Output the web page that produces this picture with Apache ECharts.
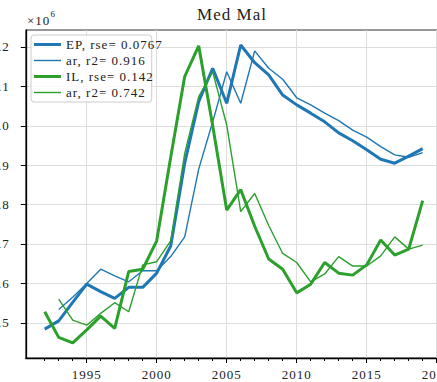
<!DOCTYPE html>
<html>
<head>
<meta charset="utf-8">
<script src="https://cdn.jsdelivr.net/npm/echarts@6/dist/echarts.min.js"></script>
<style>
html,body{margin:0;padding:0;background:#fff;}
#chart{width:437px;height:382px;}
#chart svg text{letter-spacing:1px;}
</style>
</head>
<body>
<div id="chart"></div>
<script>
// Data (values in units of 10^6)
const years = [1992,1993,1994,1995,1996,1997,1998,1999,2000,2001,2002,2003,2004,2005,2006,2007,2008,2009,2010,2011,2012,2013,2014,2015,2016,2017,2018,2019];
const epValues = [0.484,0.505,0.552,0.598,0.579,0.562,0.590,0.590,0.626,0.695,0.905,1.061,1.146,1.057,1.205,1.160,1.129,1.078,1.053,1.032,1.010,0.982,0.962,0.939,0.915,0.905,0.923,0.942];
const epArValues = [null,0.534,0.565,0.600,0.636,0.619,0.604,0.632,0.632,0.668,0.718,0.890,1.010,1.137,1.057,1.190,1.146,1.118,1.071,1.053,1.032,1.013,0.989,0.971,0.947,0.926,0.920,0.932];
const ilValues = [0.528,0.463,0.449,0.482,0.517,0.486,0.630,0.636,0.708,0.920,1.125,1.203,1.000,0.786,0.838,0.745,0.662,0.636,0.576,0.598,0.653,0.626,0.621,0.647,0.710,0.672,0.687,0.810];
const ilArValues = [null,0.560,0.507,0.494,0.524,0.551,0.528,0.647,0.655,0.708,0.930,1.074,1.137,1.002,0.782,0.828,0.747,0.676,0.653,0.604,0.624,0.668,0.644,0.644,0.670,0.718,0.687,0.697];
const seriesNames = ['EP, rse= 0.0767','ar, r2= 0.916','IL, rse= 0.142','ar, r2= 0.742'];
const xTickLabels = [1995,2000,2005,2010,2015,2020];
const xMinorTicks = years.concat([2020]);
const yTickLabels = [0.5,0.6,0.7,0.8,0.9,1.0,1.1,1.2];
const titleText = 'Med Mal';

const FONT = 'Liberation Serif';
const BLUE = '#1f77b4', GREEN = '#2ca02c';
const THICK = 3, THIN = 1.4;
const pairs = arr => years.map((y,i) => [y, arr[i]]);
const barIcon = h => 'path://M0,0H27V' + h + 'H0Z';

const chart = echarts.init(document.getElementById('chart'), null, {renderer:'svg'});
chart.setOption({
  animation:false,
  backgroundColor:'#fff',
  textStyle:{fontFamily:FONT},
  grid:{left:25.8, right:-4.6, top:30, bottom:24, show:true, borderColor:'#333', borderWidth:1, containLabel:false, outerBoundsMode:'none'},
  graphic:[
    {type:'text', x:232, y:14, style:{text:titleText, fontFamily:FONT, fontSize:17, fill:'#222', align:'center', verticalAlign:'middle'}},
    {type:'text', x:27, y:20, style:{text:'×10', fontFamily:FONT, fontSize:13, fill:'#222', align:'left', verticalAlign:'middle'}},
    {type:'text', x:50.5, y:14, style:{text:'6', fontFamily:FONT, fontSize:9, fill:'#222', align:'left', verticalAlign:'middle'}}
  ],
  legend:{
    orient:'vertical', left:31, top:35, padding:[3,4,3,3], itemGap:3, itemWidth:27, itemHeight:14,
    backgroundColor:'rgba(255,255,255,0.85)', borderColor:'#cccccc', borderWidth:1, borderRadius:3,
    textStyle:{fontFamily:FONT, fontSize:13, color:'#222'},
    data:[
      {name:seriesNames[0], icon:barIcon(THICK)},
      {name:seriesNames[1], icon:barIcon(THIN)},
      {name:seriesNames[2], icon:barIcon(THICK)},
      {name:seriesNames[3], icon:barIcon(THIN)}
    ]
  },
  xAxis:[{
    type:'value', min:1990.65, max:2020.35, gridIndex:0, position:'bottom',
    axisLine:{show:true, lineStyle:{color:'#000', width:1.3}},
    axisTick:{show:true, length:5, inside:false, lineStyle:{color:'#000', width:1}, customValues:xTickLabels},
    axisLabel:{show:true, margin:10, fontFamily:FONT, fontSize:13, color:'#222', customValues:xTickLabels, formatter:v=>String(v)},
    splitLine:{show:true, lineStyle:{color:'#dddddd', width:1}}
  },{
    type:'value', min:1990.65, max:2020.35, gridIndex:0, position:'bottom', offset:0,
    axisLine:{show:false},
    axisTick:{show:true, length:3, lineStyle:{color:'#000', width:1}, customValues:xMinorTicks},
    axisLabel:{show:false},
    splitLine:{show:false}
  }],
  yAxis:{
    type:'value', min:0.4107, max:1.243,
    axisLine:{show:true, lineStyle:{color:'#000', width:1.3}},
    axisTick:{show:true, length:5, lineStyle:{color:'#000', width:1}, customValues:yTickLabels},
    axisLabel:{show:true, margin:16, fontFamily:FONT, fontSize:13, color:'#222', customValues:yTickLabels, formatter:v=>v.toFixed(1)},
    splitLine:{show:true, lineStyle:{color:'#dddddd', width:1}}
  },
  series:[
    {name:seriesNames[0], type:'line', xAxisIndex:0, data:pairs(epValues), symbol:'none', lineStyle:{color:BLUE, width:THICK}, itemStyle:{color:BLUE}},
    {name:seriesNames[1], type:'line', xAxisIndex:0, data:pairs(epArValues), symbol:'none', lineStyle:{color:BLUE, width:THIN}, itemStyle:{color:BLUE}},
    {name:seriesNames[2], type:'line', xAxisIndex:0, data:pairs(ilValues), symbol:'none', lineStyle:{color:GREEN, width:THICK}, itemStyle:{color:GREEN}},
    {name:seriesNames[3], type:'line', xAxisIndex:0, data:pairs(ilArValues), symbol:'none', lineStyle:{color:GREEN, width:THIN}, itemStyle:{color:GREEN}}
  ]
});
</script>
</body>
</html>
